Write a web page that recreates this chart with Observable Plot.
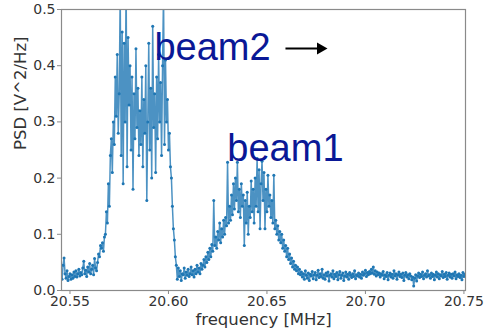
<!DOCTYPE html>
<html>
<head>
<meta charset="utf-8">
<script src="https://cdn.jsdelivr.net/npm/d3@7"></script>
<script src="https://cdn.jsdelivr.net/npm/@observablehq/plot@0.6"></script>
<style>
  html, body { margin: 0; padding: 0; background: #fff; }
</style>
</head>
<body>
<div id="chart"></div>
<script>
// Uniformly sampled spectrum: first bin and bin width (MHz)
const freqStart = 20.5460;
const freqStep = 0.0005;

// PSD values [V^2/Hz]
const psd = [
  0.020, 0.045, 0.058, 0.030, 0.022, 0.035, 0.018, 0.025, 0.030, 0.020,
  0.028, 0.022, 0.033, 0.025, 0.035, 0.024, 0.030, 0.038, 0.026, 0.032,
  0.028, 0.040, 0.052, 0.030, 0.036, 0.025, 0.042, 0.033, 0.048, 0.030,
  0.038, 0.045, 0.028, 0.057, 0.040, 0.035, 0.050, 0.065, 0.060, 0.080,
  0.075, 0.085, 0.070, 0.095, 0.100, 0.140, 0.120, 0.190, 0.150, 0.240,
  0.27, 0.21, 0.30, 0.26, 0.38, 0.31, 0.42, 0.28, 0.35, 0.53,
  0.24, 0.46, 0.19, 0.44, 0.30, 0.55, 0.22, 0.45, 0.33, 0.40,
  0.25, 0.38, 0.18, 0.35, 0.27, 0.43, 0.29, 0.36, 0.24, 0.32,
  0.26, 0.38, 0.22, 0.34, 0.28, 0.40, 0.16, 0.30, 0.44, 0.25,
  0.36, 0.20, 0.47, 0.29, 0.35, 0.21, 0.38, 0.27, 0.42, 0.30,
  0.37, 0.24, 0.40, 0.53, 0.26, 0.41, 0.30, 0.34, 0.25, 0.28, 0.22,
  0.20, 0.15, 0.11, 0.09, 0.06, 0.045, 0.020, 0.040,
  0.025, 0.035, 0.018, 0.030, 0.028, 0.040, 0.022, 0.033, 0.027, 0.038,
  0.025, 0.030, 0.042, 0.028, 0.035, 0.024, 0.038, 0.030, 0.045, 0.033,
  0.040, 0.030, 0.048, 0.038, 0.045, 0.055, 0.042,
  0.060, 0.050, 0.068, 0.055, 0.075, 0.060, 0.082, 0.070, 0.160, 0.080,
  0.095, 0.075, 0.105, 0.090, 0.120, 0.085, 0.110, 0.095, 0.125, 0.100,
  0.130, 0.115, 0.228, 0.120, 0.150, 0.125,
  0.170, 0.135, 0.190, 0.145, 0.200, 0.160, 0.228, 0.140, 0.180, 0.130,
  0.190, 0.150, 0.170, 0.080, 0.160, 0.120, 0.175, 0.100, 0.150, 0.130,
  0.195, 0.140, 0.180, 0.120, 0.200, 0.150, 0.235, 0.140, 0.215, 0.110,
  0.190, 0.230, 0.160, 0.210, 0.110, 0.180, 0.140, 0.205, 0.150, 0.170,
  0.130, 0.160, 0.120, 0.205, 0.110, 0.125,
  0.100, 0.115, 0.090, 0.105, 0.085, 0.100, 0.075, 0.090, 0.070, 0.080,
  0.060, 0.075, 0.055, 0.065, 0.048, 0.058, 0.042, 0.052, 0.038, 0.045,
  0.035, 0.042, 0.030, 0.038, 0.028,
  0.033, 0.024, 0.030, 0.020, 0.035, 0.027, 0.022, 0.031, 0.018, 0.029,
  0.026, 0.034, 0.021, 0.028, 0.032, 0.019, 0.027, 0.036, 0.023, 0.030,
  0.025, 0.038, 0.022, 0.028, 0.020, 0.031, 0.026, 0.033, 0.017, 0.027,
  0.030, 0.024, 0.035, 0.021, 0.029, 0.025, 0.032, 0.019, 0.028, 0.034,
  0.022, 0.027, 0.031, 0.018, 0.026, 0.033, 0.024, 0.029, 0.020, 0.032,
  0.027, 0.023, 0.030, 0.025, 0.035, 0.021, 0.028, 0.026, 0.031, 0.024,
  0.029, 0.022, 0.033, 0.027, 0.030, 0.036, 0.025, 0.032, 0.028, 0.034,
  0.030, 0.038, 0.031, 0.042, 0.029, 0.035, 0.026, 0.033, 0.028, 0.031,
  0.024, 0.030, 0.027, 0.034, 0.021, 0.028, 0.025, 0.032, 0.019, 0.027,
  0.031, 0.024, 0.029, 0.022, 0.035, 0.026, 0.030, 0.020, 0.028, 0.033,
  0.025, 0.029, 0.023, 0.031, 0.018, 0.027, 0.032, 0.024, 0.028, 0.021,
  0.030, 0.026, 0.019, 0.024, 0.008, 0.022, 0.028, 0.017, 0.026, 0.031,
  0.023, 0.029, 0.025, 0.033, 0.021, 0.027, 0.030, 0.024, 0.035, 0.026,
  0.028, 0.022, 0.031, 0.025, 0.029, 0.019, 0.027, 0.033, 0.024, 0.030,
  0.021, 0.028, 0.026, 0.034, 0.023, 0.029, 0.025, 0.032, 0.020, 0.027,
  0.031, 0.024, 0.029, 0.022, 0.030, 0.026, 0.033, 0.021, 0.028, 0.025,
  0.030, 0.023, 0.027, 0.019, 0.032, 0.025, 0.029, 0.024
];

const xTicks = [20.55, 20.60, 20.65, 20.70, 20.75];
const yTicks = [0.0, 0.1, 0.2, 0.3, 0.4, 0.5];
const xDomain = [20.5457, 20.7508];
const yDomain = [0, 0.5];
const xLabel = "frequency [MHz]";
const yLabel = "PSD [V^2/Hz]";

// Annotations (data coordinates)
const labels = [
  {text: "beam2", f: 20.5929, v: 0.4093},
  {text: "beam1", f: 20.6299, v: 0.2313}
];
const arrowShaft = [{f1: 20.6594, f2: 20.6765, v: 0.4306}];
const arrowHead = [{f: 20.6772, v: 0.4306}];

const data = psd.map((v, i) => ({f: freqStart + i * freqStep, v}));

const lineColor = "#1f77b4";
const frameColor = "#8a8a8a";
const labelColor = "#0a1896";

const chart = Plot.plot({
  width: 485,
  height: 333,
  marginLeft: 61,
  marginRight: 20,
  marginTop: 9,
  marginBottom: 43,
  style: {fontFamily: "DejaVu Sans, sans-serif", fontSize: "14px", background: "#fff"},
  x: {domain: xDomain},
  y: {domain: yDomain},
  marks: [
    Plot.line(data, {x: "f", y: "v", stroke: lineColor, strokeWidth: 1.5, strokeOpacity: 0.8, clip: true}),
    Plot.dot(data, {x: "f", y: "v", r: 1.5, fill: lineColor, stroke: null, clip: true}),
    Plot.frame({stroke: frameColor, strokeWidth: 1.2}),
    Plot.axisX({ticks: xTicks, tickFormat: d3.format(".2f"), tickSize: 4, tickPadding: 2,
      label: null, stroke: frameColor, fill: "#333", fontSize: 14}),
    Plot.axisY({ticks: yTicks, tickFormat: d3.format(".1f"), tickSize: 4, tickPadding: 2,
      label: null, stroke: frameColor, fill: "#333", fontSize: 14}),
    Plot.text([xLabel], {text: d => d, frameAnchor: "bottom", dy: 34, fill: "#333", fontSize: 16.5}),
    Plot.text([yLabel], {text: d => d, frameAnchor: "left", dx: -41, rotate: -90, fill: "#333", fontSize: 16.5}),
    Plot.text(labels, {x: "f", y: "v", text: "text", textAnchor: "start", lineAnchor: "bottom",
      fill: labelColor, fontSize: 38, fontFamily: "Liberation Sans, Arial, sans-serif"}),
    Plot.link(arrowShaft, {x1: "f1", x2: "f2", y1: "v", y2: "v", stroke: "#000", strokeWidth: 2}),
    Plot.dot(arrowHead, {x: "f", y: "v", symbol: "triangle", rotate: 90, r: 4.5, fill: "#000", stroke: null})
  ]
});

document.getElementById("chart").appendChild(chart);
</script>
</body>
</html>
